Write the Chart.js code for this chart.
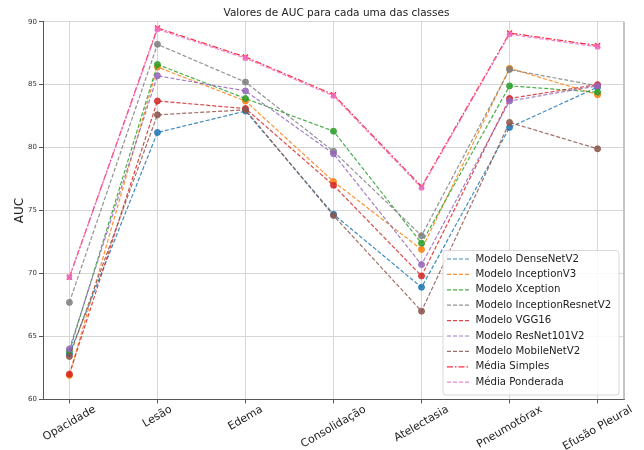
<!DOCTYPE html>
<html>
<head>
<meta charset="utf-8">
<script src="https://cdn.jsdelivr.net/npm/chart.js@4/dist/chart.umd.min.js"></script>
<style>
  body { margin: 0; background: #fff; }
  canvas { display: block; }
</style>
</head>
<body>
<canvas id="c" width="644" height="450"></canvas>
<script>
const chartTitle = 'Valores de AUC para cada uma das classes';
const categories = ['Opacidade', 'Lesão', 'Edema', 'Consolidação', 'Atelectasia', 'Pneumotórax', 'Efusão Pleural'];
const yTicks = [60, 65, 70, 75, 80, 85, 90];

const denseNet = [63.6, 81.2, 82.9, 74.7, 68.9, 81.6, 84.8];
const inceptionV3 = [61.9, 86.4, 83.7, 77.3, 71.9, 86.3, 84.2];
const xception = [63.8, 86.6, 83.9, 81.3, 72.4, 84.9, 84.4];
const inceptionResnet = [67.7, 88.2, 85.2, 79.7, 73.0, 86.2, 84.9];
const vgg16 = [62.0, 83.7, 83.1, 77.0, 69.8, 83.9, 85.0];
const resnet101 = [64.0, 85.7, 84.5, 79.5, 70.7, 83.7, 84.9];
const mobileNet = [63.4, 82.6, 83.0, 74.6, 67.0, 82.0, 79.9];
const mediaSimples = [69.7, 89.5, 87.2, 84.2, 76.9, 89.1, 88.1];
const mediaPonderada = [69.7, 89.4, 87.1, 84.1, 76.8, 89.0, 88.0];

const FONT = '"DejaVu Sans", sans-serif';
const DASH = [4, 2];
const DASHDOT = [6, 2, 1.5, 2];

function series(label, values, color, opts) {
    return Object.assign({
        label: label,
        data: values.map((v, i) => ({x: i, y: v})),
        borderColor: color,
        backgroundColor: color,
        borderWidth: 1.2,
        borderDash: DASH,
        pointStyle: 'circle',
        pointRadius: 3,
        pointBorderWidth: 1,
        pointHoverRadius: 3,
        tension: 0
    }, opts || {});
}

let datasets = [
    series('Modelo DenseNetV2', denseNet, 'rgba(31,119,180,0.85)'),
    series('Modelo InceptionV3', inceptionV3, 'rgba(255,127,14,0.85)'),
    series('Modelo Xception', xception, 'rgba(44,160,44,0.85)'),
    series('Modelo InceptionResnetV2', inceptionResnet, 'rgba(127,127,127,0.85)'),
    series('Modelo VGG16', vgg16, 'rgba(214,39,40,0.85)'),
    series('Modelo ResNet101V2', resnet101, 'rgba(148,103,189,0.85)'),
    series('Modelo MobileNetV2', mobileNet, 'rgba(140,86,75,0.85)'),
    series('Média Simples', mediaSimples, 'rgba(255,20,40,0.9)', {borderDash: DASHDOT, pointStyle: 'crossRot', pointRadius: 3.5, pointBorderWidth: 1.5}),
    series('Média Ponderada', mediaPonderada, 'rgba(235,110,200,0.85)', {pointStyle: 'rect', pointRadius: 3})
];
datasets.forEach((d, i) => { d.order = -i; });

// title, rotated x labels, right spine and the legend box
const extras = {
    id: 'extras',
    afterDraw(chart) {
        const {ctx, chartArea, scales} = chart;
        ctx.save();

        ctx.strokeStyle = '#c4c4c4';
        ctx.lineWidth = 2;
        ctx.beginPath();
        ctx.moveTo(chartArea.right, chartArea.top);
        ctx.lineTo(chartArea.right, chartArea.bottom);
        ctx.stroke();

        ctx.fillStyle = '#222';
        ctx.font = '10.5px ' + FONT;
        ctx.textAlign = 'center';
        ctx.textBaseline = 'middle';
        ctx.fillText(chartTitle, (chartArea.left + chartArea.right) / 2 + 3, 13);

        const a = 30 * Math.PI / 180;
        ctx.font = '11px ' + FONT;
        categories.forEach((c, i) => {
            const x = scales.x.getPixelForValue(i);
            const w = ctx.measureText(c).width;
            const bh = w * Math.sin(a) + 12.5 * Math.cos(a);
            ctx.save();
            ctx.translate(x, chartArea.bottom + 4 + bh / 2);
            ctx.rotate(-a);
            ctx.fillText(c, 0, 0);
            ctx.restore();
        });

        // legend
        const bx = 443, by = 250.5, bw = 176, bh = 144.5;
        ctx.fillStyle = 'rgba(255,255,255,0.85)';
        ctx.strokeStyle = '#d8d8d8';
        ctx.lineWidth = 1;
        ctx.beginPath();
        ctx.roundRect(bx, by, bw, bh, 3);
        ctx.fill();
        ctx.stroke();

        ctx.font = '10.2px ' + FONT;
        ctx.textAlign = 'left';
        chart.data.datasets.forEach((d, i) => {
            const y = 259 + i * 15.4;
            ctx.strokeStyle = d.borderColor;
            ctx.lineWidth = d.borderWidth;
            ctx.setLineDash(d.borderDash);
            ctx.beginPath();
            ctx.moveTo(447, y);
            ctx.lineTo(469, y);
            ctx.stroke();
            ctx.setLineDash([]);
            ctx.fillStyle = '#222';
            ctx.fillText(d.label, 475.5, y);
        });
        ctx.restore();
    }
};

new Chart(document.getElementById('c'), {
    type: 'line',
    data: {datasets: datasets},
    options: {
        responsive: false,
        animation: false,
        devicePixelRatio: 1,
        layout: {padding: {top: 21.7, right: 20, left: 0, bottom: 0}},
        plugins: {
            legend: {display: false},
            title: {display: false},
            tooltip: {enabled: false}
        },
        scales: {
            x: {
                type: 'linear',
                min: -0.3,
                max: 6.3,
                afterBuildTicks: s => { s.ticks = categories.map((c, i) => ({value: i})); },
                afterFit: s => { s.height = 50.7; },
                ticks: {display: false},
                grid: {color: '#d6d6d6', lineWidth: 1, tickLength: 4, tickColor: '#555'},
                border: {color: '#555', width: 1}
            },
            y: {
                min: 60,
                max: 90,
                afterBuildTicks: s => { s.ticks = yTicks.map(v => ({value: v})); },
                afterFit: s => { s.width = 43; },
                ticks: {font: {family: FONT, size: 7}, color: '#333', padding: 2},
                grid: {color: '#d6d6d6', lineWidth: 1, tickLength: 4, tickColor: '#555'},
                border: {color: '#555', width: 1},
                title: {
                    display: true,
                    text: 'AUC',
                    color: '#222',
                    font: {family: FONT, size: 12},
                    padding: {top: 13, bottom: 0}
                }
            }
        }
    },
    plugins: [extras]
});
</script>
</body>
</html>
